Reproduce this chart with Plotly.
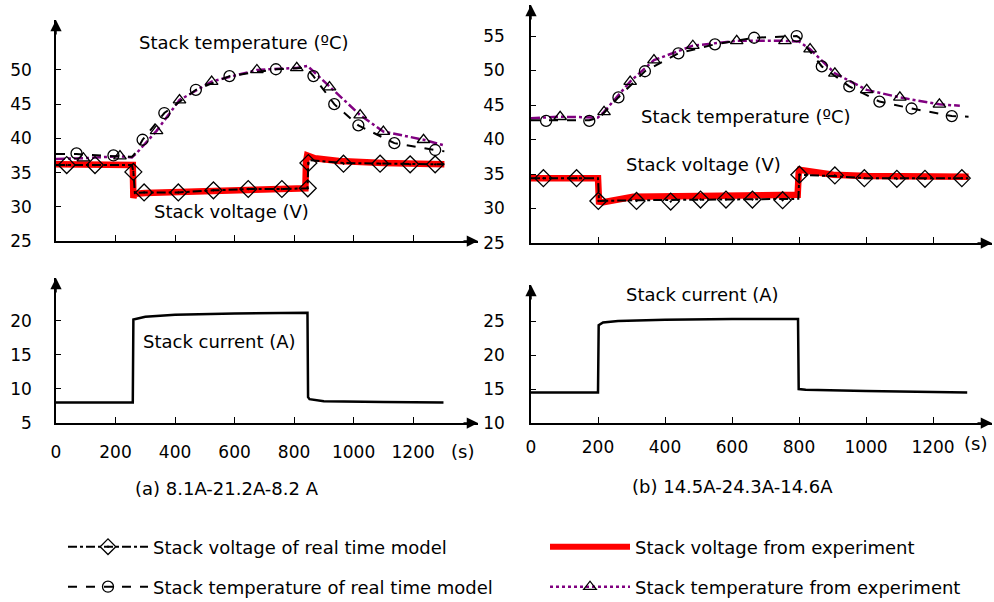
import plotly.graph_objects as go

# ---------------- (a) 8.1A-21.2A-8.2A ----------------
# stack voltage, experiment
t_vexp_a = [0, 258, 260, 264, 300, 400, 600, 838, 840, 844, 870, 950, 1100, 1305]
v_vexp_a = [36.2, 36.1, 31.3, 31.9, 32.0, 32.1, 32.4, 32.7, 36.5, 37.5, 37.1, 36.7, 36.4, 36.2]
# stack voltage, real time model
t_vmod_a = [0, 255, 260, 265, 296, 411, 529, 646, 759, 845, 848, 853, 966, 1089, 1190, 1305]
v_vmod_a = [36.1, 36.1, 35.1, 32.0, 32.1, 32.1, 32.4, 32.6, 32.6, 32.7, 36.4, 36.8, 36.4, 36.3, 36.2, 36.2]
t_vmod_a_mk = [36, 131, 260, 296, 411, 529, 646, 759, 846, 848, 966, 1089, 1190, 1274]
v_vmod_a_mk = [36.1, 36.1, 35.1, 32.1, 32.1, 32.4, 32.6, 32.6, 32.7, 36.4, 36.3, 36.3, 36.2, 36.2]
# stack temperature, real time model
t_tmod_a = [0, 69, 193, 255, 262, 291, 364, 470, 583, 739, 840, 845, 865, 935, 1016, 1137, 1274, 1305]
T_tmod_a = [37.7, 37.7, 37.4, 37.3, 37.6, 39.8, 43.7, 47.1, 49.1, 50.1, 50.3, 50.1, 49.1, 45.0, 41.9, 39.3, 38.3, 38.1]
t_tmod_a_mk = [69, 193, 291, 364, 470, 583, 739, 865, 935, 1016, 1137, 1274]
T_tmod_a_mk = [37.8, 37.5, 39.8, 43.7, 47.1, 49.1, 50.1, 49.1, 45.0, 41.9, 39.3, 38.3]
# stack temperature, experiment
t_texp_a = [0, 92, 215, 255, 270, 338, 415, 523, 675, 809, 845, 865, 919, 1022, 1100, 1235, 1302]
T_texp_a = [37.0, 37.1, 37.4, 37.2, 37.8, 41.1, 45.6, 48.3, 50.0, 50.3, 50.6, 49.8, 47.5, 43.4, 41.0, 39.8, 39.0]
t_texp_a_mk = [92, 215, 338, 415, 523, 675, 809, 919, 1022, 1100, 1235]
T_texp_a_mk = [37.1, 37.4, 41.1, 45.6, 48.3, 50.0, 50.3, 47.5, 43.4, 41.0, 39.8]
# stack current
t_cur_a = [0, 258, 260, 300, 400, 600, 845, 847, 852, 900, 1100, 1302]
i_cur_a = [8.0, 8.0, 20.2, 20.6, 20.9, 21.1, 21.2, 8.8, 8.5, 8.2, 8.1, 8.0]

# ---------------- (b) 14.5A-24.3A-14.6A ----------------
t_vexp_b = [0, 200, 203, 216, 305, 500, 796, 799, 802, 902, 1002, 1306]
v_vexp_b = [34.4, 34.4, 31.0, 30.9, 31.7, 31.9, 32.0, 35.2, 35.6, 34.9, 34.7, 34.6]
t_vmod_b = [0, 200, 203, 320, 798, 801, 900, 1000, 1306]
v_vmod_b = [34.4, 34.4, 31.1, 31.2, 31.4, 34.9, 34.7, 34.4, 34.4]
t_vmod_b_mk = [37, 136, 201, 315, 417, 506, 582, 661, 751, 801, 907, 995, 1092, 1176, 1286]
v_vmod_b_mk = [34.4, 34.4, 31.1, 31.1, 31.0, 31.3, 31.3, 31.3, 31.2, 34.9, 34.8, 34.4, 34.3, 34.3, 34.4]
t_tmod_b = [0, 174, 205, 261, 340, 440, 549, 666, 793, 800, 868, 950, 1040, 1136, 1256, 1306]
T_tmod_b = [42.8, 42.8, 43.2, 46.1, 49.9, 52.5, 53.8, 54.75, 55.0, 54.8, 50.6, 47.7, 45.5, 44.5, 43.4, 43.3]
t_tmod_b_mk = [45, 174, 261, 340, 440, 549, 666, 793, 868, 950, 1040, 1136, 1256]
T_tmod_b_mk = [42.7, 42.7, 46.1, 49.9, 52.5, 53.8, 54.75, 55.0, 50.6, 47.7, 45.5, 44.5, 43.4]
t_texp_b = [0, 87, 200, 218, 296, 367, 483, 614, 758, 800, 833, 907, 1002, 1101, 1219, 1280]
T_texp_b = [43.1, 43.3, 43.2, 44.0, 48.4, 51.5, 53.6, 54.3, 54.3, 54.2, 53.1, 49.6, 47.2, 46.1, 45.1, 44.9]
t_texp_b_mk = [87, 218, 296, 367, 483, 614, 758, 833, 907, 1002, 1101, 1219]
T_texp_b_mk = [43.3, 44.0, 48.4, 51.5, 53.6, 54.3, 54.3, 53.1, 49.6, 47.2, 46.1, 45.1]
t_cur_b = [0, 200, 202, 215, 260, 400, 600, 797, 799, 820, 1000, 1302]
i_cur_b = [14.5, 14.5, 24.4, 24.8, 25.0, 25.2, 25.3, 25.3, 15.0, 14.9, 14.7, 14.5]

x_ticks = [0, 200, 400, 600, 800, 1000, 1200]
ticks_top_a = [25, 30, 35, 40, 45, 50]
ticks_top_b = [25, 30, 35, 40, 45, 50, 55]
ticks_cur_a = [5, 10, 15, 20]
ticks_cur_b = [10, 15, 20, 25]

legend_names = [
    "Stack voltage of real time model",
    "Stack voltage from experiment",
    "Stack temperature of real time model",
    "Stack temperature from experiment",
]

FONT = "DejaVu Sans, Verdana, sans-serif"
RED = "#ff0000"
PURPLE = "#800080"
W, H = 994, 602

fig = go.Figure()

# axis pairs: (xaxis, yaxis) for top-left, bottom-left, top-right, bottom-right
panels = [("x", "y"), ("x2", "y2"), ("x3", "y3"), ("x4", "y4")]


def add_panel(ax, vexp, vmod, vmod_mk, tmod, tmod_mk, texp, texp_mk):
    xa, ya = ax
    # experiment voltage (thick red)
    fig.add_trace(go.Scatter(x=vexp[0], y=vexp[1], mode="lines", xaxis=xa, yaxis=ya,
                             line=dict(color=RED, width=6.5), showlegend=False, hoverinfo="skip"))
    # experiment temperature (purple dash-dot) with triangle markers
    fig.add_trace(go.Scatter(x=texp[0], y=texp[1], mode="lines", xaxis=xa, yaxis=ya,
                             line=dict(color=PURPLE, width=2.5, dash="dashdot"),
                             showlegend=False, hoverinfo="skip"))
    fig.add_trace(go.Scatter(x=texp_mk[0], y=texp_mk[1], mode="markers", xaxis=xa, yaxis=ya,
                             marker=dict(symbol="triangle-up-open", size=11, color="black",
                                         line=dict(width=1.3, color="black")),
                             showlegend=False, hoverinfo="skip"))
    # model temperature (black dashed) with circles
    fig.add_trace(go.Scatter(x=tmod[0], y=tmod[1], mode="lines", xaxis=xa, yaxis=ya,
                             line=dict(color="black", width=2, dash="dash"),
                             showlegend=False, hoverinfo="skip"))
    fig.add_trace(go.Scatter(x=tmod_mk[0], y=tmod_mk[1], mode="markers", xaxis=xa, yaxis=ya,
                             marker=dict(symbol="circle-open", size=11, color="black",
                                         line=dict(width=1.3, color="black")),
                             showlegend=False, hoverinfo="skip"))
    # model voltage (black dash-dot) with diamonds
    fig.add_trace(go.Scatter(x=vmod[0], y=vmod[1], mode="lines", xaxis=xa, yaxis=ya,
                             line=dict(color="black", width=2, dash="dashdot"),
                             showlegend=False, hoverinfo="skip"))
    fig.add_trace(go.Scatter(x=vmod_mk[0], y=vmod_mk[1], mode="markers", xaxis=xa, yaxis=ya,
                             marker=dict(symbol="diamond-open-dot", size=13, color="black",
                                         line=dict(width=1.3, color="black")),
                             showlegend=False, hoverinfo="skip"))


add_panel(panels[0], (t_vexp_a, v_vexp_a), (t_vmod_a, v_vmod_a), (t_vmod_a_mk, v_vmod_a_mk),
          (t_tmod_a, T_tmod_a), (t_tmod_a_mk, T_tmod_a_mk), (t_texp_a, T_texp_a), (t_texp_a_mk, T_texp_a_mk))
add_panel(panels[2], (t_vexp_b, v_vexp_b), (t_vmod_b, v_vmod_b), (t_vmod_b_mk, v_vmod_b_mk),
          (t_tmod_b, T_tmod_b), (t_tmod_b_mk, T_tmod_b_mk), (t_texp_b, T_texp_b), (t_texp_b_mk, T_texp_b_mk))

# stack current
fig.add_trace(go.Scatter(x=t_cur_a, y=i_cur_a, mode="lines", xaxis="x2", yaxis="y2",
                         line=dict(color="black", width=2.5), showlegend=False, hoverinfo="skip"))
fig.add_trace(go.Scatter(x=t_cur_b, y=i_cur_b, mode="lines", xaxis="x4", yaxis="y4",
                         line=dict(color="black", width=2.5), showlegend=False, hoverinfo="skip"))

# legend entries (each in its own legend box so the 2x2 layout can be placed freely)
legend_styles = [
    dict(mode="lines+markers", line=dict(color="black", width=2, dash="dashdot"),
         marker=dict(symbol="diamond-open-dot", size=12, color="black", line=dict(width=1.3))),
    dict(mode="lines", line=dict(color=RED, width=6)),
    dict(mode="lines+markers", line=dict(color="black", width=2, dash="dash"),
         marker=dict(symbol="circle-open", size=11, color="black", line=dict(width=1.3))),
    dict(mode="lines+markers", line=dict(color=PURPLE, width=2.5, dash="dot"),
         marker=dict(symbol="triangle-up-open", size=11, color="black", line=dict(width=1.3))),
]
legend_ids = ["legend", "legend2", "legend3", "legend4"]
for name, style, lid in zip(legend_names, legend_styles, legend_ids):
    fig.add_trace(go.Scatter(x=[None], y=[None], name=name, legend=lid, xaxis="x", yaxis="y",
                             showlegend=True, **style))

# ---------------- axes ----------------
def px_x(p):
    return p / W


def px_y(p):
    return 1 - p / H


axis_common = dict(showgrid=False, zeroline=False, showline=True, linecolor="black",
                   linewidth=1.5, ticks="inside", tickcolor="black", tickwidth=1.2,
                   tickfont=dict(family=FONT, size=17, color="black"))

xr_a = [0, 1418]
xr_b = [0, 1376]
yr = {"y": [25, 57.3], "y2": [5, 26.3], "y3": [25, 59.5], "y4": [10, 30.3]}

layout_axes = dict(
    xaxis=dict(domain=[px_x(56), px_x(478)], range=xr_a, anchor="y", tickvals=x_ticks,
               showticklabels=False, ticklen=6, **axis_common),
    yaxis=dict(domain=[px_y(241), px_y(20)], range=yr["y"], anchor="x", tickvals=ticks_top_a,
               ticklen=5, ticklabelstandoff=19, **axis_common),
    xaxis2=dict(domain=[px_x(56), px_x(478)], range=xr_a, anchor="y2", tickvals=x_ticks,
                ticklen=6, ticklabelstandoff=13, **axis_common),
    yaxis2=dict(domain=[px_y(423), px_y(278)], range=yr["y2"], anchor="x2", tickvals=ticks_cur_a,
                ticklen=5, ticklabelstandoff=19, **axis_common),
    xaxis3=dict(domain=[px_x(531), px_x(992)], range=xr_b, anchor="y3", tickvals=x_ticks,
                showticklabels=False, ticklen=6, **axis_common),
    yaxis3=dict(domain=[px_y(243), px_y(5)], range=yr["y3"], anchor="x3", tickvals=ticks_top_b,
                ticklen=5, ticklabelstandoff=21, **axis_common),
    xaxis4=dict(domain=[px_x(531), px_x(992)], range=xr_b, anchor="y4", tickvals=x_ticks,
                ticklen=6, ticklabelstandoff=8, **axis_common),
    yaxis4=dict(domain=[px_y(423), px_y(285)], range=yr["y4"], anchor="x4", tickvals=ticks_cur_b,
                ticklen=5, ticklabelstandoff=21, **axis_common),
)

annotations = []
# arrowheads at the ends of the axes
for (xa, ya), xr in zip(panels, [xr_a, xr_a, xr_b, xr_b]):
    y0, y1 = yr[ya]
    annotations.append(dict(x=xr[1], y=y0, xref=xa, yref=ya, ax=-16, ay=0, text="",
                            showarrow=True, arrowhead=2, arrowsize=1.5, arrowwidth=1.5,
                            arrowcolor="black"))
    annotations.append(dict(x=0, y=y1, xref=xa, yref=ya, ax=0, ay=16, text="",
                            showarrow=True, arrowhead=2, arrowsize=1.5, arrowwidth=1.5,
                            arrowcolor="black"))

labels = [
    ("Stack temperature (ºC)", 244, 42),
    ("Stack voltage (V)", 231, 212),
    ("Stack temperature (ºC)", 746, 116),
    ("Stack voltage (V)", 703, 164),
    ("Stack current (A)", 219, 341),
    ("Stack current (A)", 702, 294),
    ("(a) 8.1A-21.2A-8.2 A", 227, 488),
    ("(b) 14.5A-24.3A-14.6A", 732, 486),
    ("(s)", 462, 451),
    ("(s)", 975, 443),
]
for text, px, py in labels:
    annotations.append(dict(x=px_x(px), y=px_y(py), xref="paper", yref="paper", text=text,
                            showarrow=False, xanchor="center", yanchor="middle",
                            font=dict(family=FONT, size=18, color="black")))

legend_pos = {
    "legend": (63, 547), "legend2": (545, 547),
    "legend3": (63, 587), "legend4": (545, 587),
}
legends = {}
for lid, (px, py) in legend_pos.items():
    legends[lid] = dict(x=px_x(px), y=px_y(py), xanchor="left", yanchor="middle",
                        xref="paper", yref="paper", bgcolor="rgba(0,0,0,0)", borderwidth=0,
                        itemwidth=80, font=dict(family=FONT, size=18, color="black"))

fig.update_layout(
    width=W, height=H,
    # fixed margins: the legend boxes must not shrink the plotting areas
    margin=dict(l=0, r=0, t=0, b=0, autoexpand=False),
    paper_bgcolor="white", plot_bgcolor="white",
    font=dict(family=FONT, size=18, color="black"),
    annotations=annotations,
    **layout_axes,
    **legends,
)

fig.write_html("out.html")
